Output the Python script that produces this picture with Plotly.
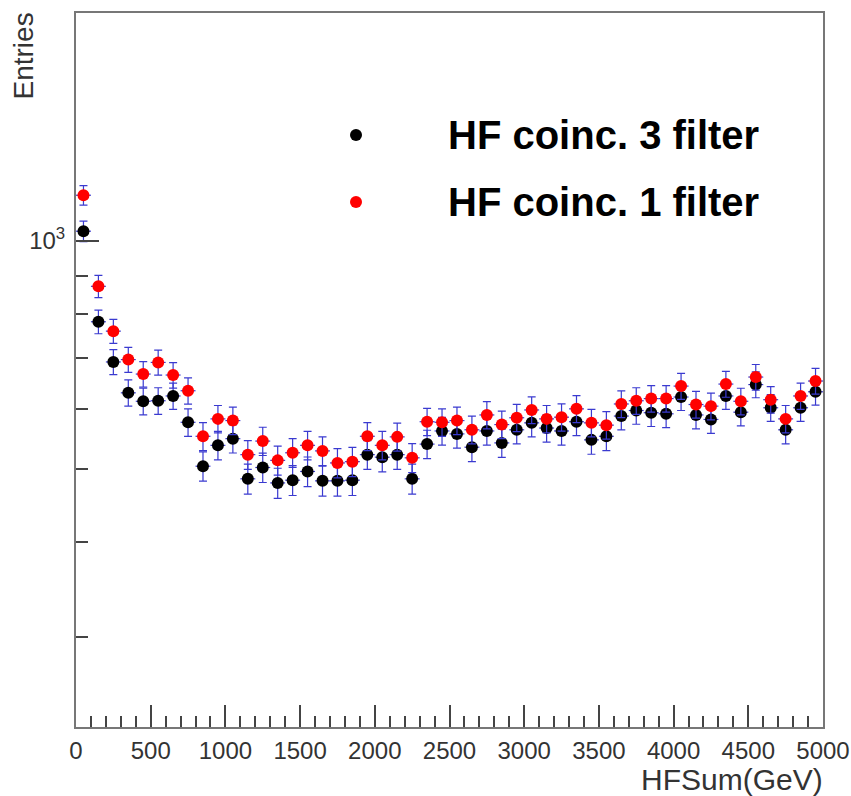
import numpy as np
import plotly.graph_objects as go

# ---- data ----
bin_centers = [50 + 100 * i for i in range(50)]
coinc3 = [1030, 782, 692, 630, 614, 615, 624, 576, 504, 537,
          548, 485, 502, 479, 483, 496, 482, 482, 483, 522,
          518, 522, 485, 539, 561, 556, 534, 561, 541, 563,
          575, 566, 561, 577, 546, 552, 587, 597, 593, 591,
          622, 589, 581, 624, 594, 646, 602, 563, 602, 632]
coinc1 = [1149, 871, 760, 697, 667, 691, 665, 634, 552, 582,
          579, 522, 544, 513, 525, 537, 528, 509, 511, 552,
          537, 551, 517, 577, 576, 579, 563, 589, 572, 584,
          598, 582, 585, 600, 575, 571, 609, 615, 619, 619,
          643, 608, 605, 647, 614, 661, 617, 582, 624, 653]
names = ["HF coinc. 3 filter", "HF coinc. 1 filter"]
colors = ["black", "red"]
x_ticks = [0, 500, 1000, 1500, 2000, 2500, 3000, 3500, 4000, 4500, 5000]
x_minor = [v for v in range(100, 5000, 100) if v % 500 != 0]
y_major = [1000]
y_major_text = ["10<sup>3</sup>"]
y_minor = [300, 400, 500, 600, 700, 800, 900, 2000]
bin_half = 50

W, H = 851, 796
ML, MR, MT, MB = 76, 28, 13, 69
PW, PH = W - ML - MR, H - MT - MB


def px(xp):
    return (xp - ML) / PW


def py(yp):
    return (H - MB - yp) / PH


FONT = "Liberation Sans, Arial"

fig = go.Figure()
for vals, name, col in zip([coinc3, coinc1], names, colors):
    fig.add_trace(go.Scatter(
        x=bin_centers, y=vals, mode="markers", name=name,
        marker=dict(color=col, size=12, symbol="circle"),
        error_y=dict(type="data", array=list(np.sqrt(vals)), color="#3a3ad0",
                     thickness=1.2, width=4),
        error_x=dict(type="constant", value=bin_half, color="#3a3ad0",
                     thickness=1.2, width=0),
        showlegend=False,
    ))

axis_common = dict(showline=True, linecolor="#777", linewidth=2, mirror=True,
                   showgrid=False, zeroline=False, automargin=False,
                   tickfont=dict(family=FONT, size=24, color="#333"))

fig.update_xaxes(range=[0, 5000], tickmode="array", tickvals=x_ticks,
                 ticks="inside", ticklen=22, tickcolor="#444", tickwidth=1.5,
                 ticklabelstandoff=1,
                 minor=dict(tickmode="array", tickvals=x_minor,
                            ticklen=11, ticks="inside",
                            tickcolor="#444", tickwidth=1.5),
                 **axis_common)
fig.update_yaxes(type="log", range=[np.log10(228), np.log10(2000)],
                 tickmode="array", tickvals=y_major, ticktext=y_major_text,
                 ticks="inside", ticklen=23, tickcolor="#444", tickwidth=1.5,
                 ticklabelstandoff=4,
                 minor=dict(tickmode="array", tickvals=y_minor, ticklen=12, ticks="inside",
                            tickcolor="#444", tickwidth=1.5),
                 **axis_common)

annotations = [
    dict(text="HFSum(GeV)", x=px(825), y=py(779), xref="paper", yref="paper",
         xanchor="right", yanchor="middle", showarrow=False,
         font=dict(family=FONT, size=30, color="#333")),
    dict(text="Entries", x=px(23), y=py(11), xref="paper", yref="paper",
         xanchor="center", yanchor="top", textangle=-90, showarrow=False,
         font=dict(family=FONT, size=28, color="#333")),
]
shapes = []
leg_y = [135, 202]
for name, col, ly in zip(names, colors, leg_y):
    annotations.append(dict(text="<b>%s</b>" % name, x=px(446), y=py(ly),
                            xref="paper", yref="paper", xanchor="left", yanchor="middle",
                            showarrow=False,
                            font=dict(family=FONT, size=40, color="black")))
    r = 6
    shapes.append(dict(type="circle", xref="paper", yref="paper",
                       x0=px(356 - r), x1=px(356 + r), y0=py(ly + r), y1=py(ly - r),
                       fillcolor=col, line=dict(color=col, width=0)))

fig.update_layout(width=W, height=H, margin=dict(l=ML, r=MR, t=MT, b=MB),
                  paper_bgcolor="white", plot_bgcolor="white",
                  annotations=annotations, shapes=shapes, showlegend=False)

fig.write_html("out.html")
